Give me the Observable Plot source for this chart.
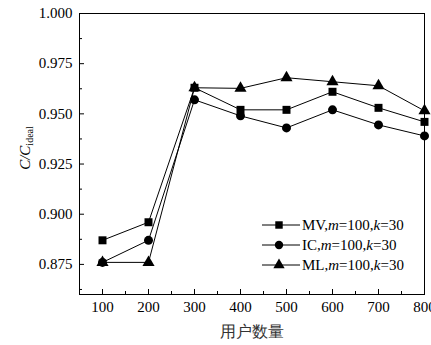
<!DOCTYPE html>
<html><head><meta charset="utf-8">
<script src="https://cdn.jsdelivr.net/npm/d3@7"></script>
<script src="https://cdn.jsdelivr.net/npm/@observablehq/plot@0.6"></script>
<style>body{margin:0;background:#fff}#chart{width:431px;height:345px}
#chart svg text{font-family:"Liberation Serif","Times New Roman",serif}</style>
</head><body><div id="chart"></div>
<script>
const users = [100, 200, 300, 400, 500, 600, 700, 800];
const mv = [0.887, 0.896, 0.963, 0.952, 0.952, 0.961, 0.953, 0.946];
const ic = [0.876, 0.887, 0.957, 0.949, 0.943, 0.952, 0.9445, 0.939];
const ml = [0.876, 0.876, 0.963, 0.9627, 0.968, 0.966, 0.964, 0.9515];
const seriesNames = ["MV", "IC", "ML"];
const seriesSymbols = ["square", "circle", "triangle"];
const yTicks = [0.875, 0.9, 0.925, 0.95, 0.975, 1.0];
const yMinor = [0.8625, 0.8875, 0.9125, 0.9375, 0.9625, 0.9875];
const xTicks = [100, 200, 300, 400, 500, 600, 700, 800];
const xMinor = [150, 250, 350, 450, 550, 650, 750];
const xLabel = "用户数量";
const legendParam = ["100", "30"];

const seriesValues = [mv, ic, ml];
const rows = seriesNames.flatMap((s, i) => users.map((u, j) => ({series: s, x: u, y: seriesValues[i][j]})));

const plot = Plot.plot({
  width: 431, height: 345,
  marginLeft: 79, marginRight: 7, marginTop: 13, marginBottom: 51,
  style: {fontSize: "15px", color: "#000", background: "#fff"},
  x: {domain: [50, 800]},
  y: {domain: [0.86, 1.0]},
  symbol: {domain: seriesNames, range: seriesSymbols},
  marks: [
    Plot.frame({stroke: "#000", strokeWidth: 1}),
    Plot.axisY(yTicks, {tickSize: -5, tickPadding: 12, tickFormat: d3.format(".3f"), label: null, fontSize: 15}),
    Plot.axisY(yMinor, {tickSize: -3, tickFormat: () => "", label: null}),
    Plot.axisX(xTicks, {tickSize: -5, tickPadding: 12, tickFormat: d => String(d), label: null, fontSize: 15}),
    Plot.axisX(xMinor, {tickSize: -3, tickFormat: () => "", label: null}),
    Plot.line(rows, {x: "x", y: "y", z: "series", stroke: "#000", strokeWidth: 1}),
    Plot.dot(rows, {x: "x", y: "y", symbol: "series", fill: "#000", stroke: "none", r: 4.5}),
    Plot.text([xLabel], {frameAnchor: "bottom", dy: 42, fontSize: 16, fill: "#333"})
  ]
});
document.getElementById("chart").appendChild(plot);

const svg = d3.select(plot);
svg.selectAll("text").style("font-family", "'Liberation Serif', 'Times New Roman', serif");

// y axis label C/C_ideal
const yl = svg.append("text")
  .attr("transform", "translate(30,148) rotate(-90)")
  .attr("text-anchor", "middle")
  .style("font-family", "'Liberation Serif', serif").attr("font-size", 15).attr("fill", "#000");
yl.append("tspan").attr("font-style", "italic").text("C/C");
yl.append("tspan").attr("font-size", 10).attr("dy", 3).text("ideal");

// legend
const lg = svg.append("g").attr("transform", "translate(262,225)");
seriesNames.forEach((s, i) => {
  const g = lg.append("g").attr("transform", `translate(0,${i * 20})`);
  g.append("line").attr("x1", 0).attr("x2", 38).attr("stroke", "#000").attr("stroke-width", 1);
  const sym = [d3.symbolSquare, d3.symbolCircle, d3.symbolTriangle][i];
  g.append("path").attr("transform", "translate(17,0)").attr("d", d3.symbol(sym, 4.2 * 4.2 * Math.PI)()).attr("fill", "#000");
  const t = g.append("text").attr("x", 40).attr("dy", "0.35em").attr("text-anchor", "start")
    .style("font-family", "'Liberation Serif', serif").attr("font-size", 15).attr("fill", "#000");
  t.append("tspan").text(s + ",");
  t.append("tspan").attr("font-style", "italic").text("m");
  t.append("tspan").text("=" + legendParam[0] + ",");
  t.append("tspan").attr("font-style", "italic").text("k");
  t.append("tspan").text("=" + legendParam[1]);
});
</script></body></html>
